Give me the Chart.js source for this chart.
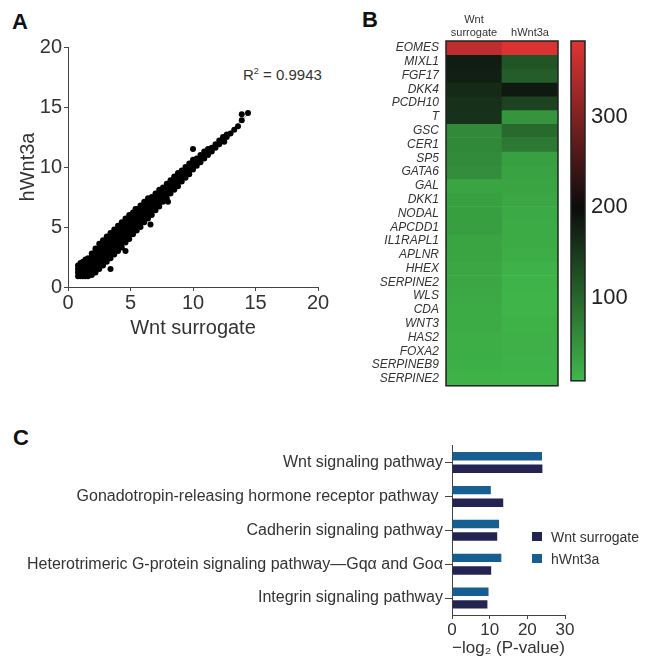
<!DOCTYPE html>
<html>
<head>
<meta charset="utf-8">
<script src="https://cdn.jsdelivr.net/npm/chart.js@4.4.1/dist/chart.umd.min.js"></script>
<style>
  body { margin: 0; width: 650px; height: 672px; position: relative; background: #fff; overflow: hidden;
         font-family: 'Liberation Sans', Arial, sans-serif; color: #333; }
  canvas { position: absolute; }
  .panel { position: absolute; font-weight: bold; font-size: 22px; color: #111; line-height: 1; }
  .note { position: absolute; font-size: 15px; color: #333; line-height: 1; white-space: nowrap; }
  .note sup { font-size: 9px; vertical-align: 6px; }
  .key { position: absolute; font-size: 14px; color: #333; line-height: 1; white-space: nowrap; }
  .key i { position: absolute; left: 0; top: 0; width: 10px; height: 9px; }
  .key span { position: absolute; left: 19px; top: -2px; }
</style>
</head>
<body>
<div class="panel" style="left:12px;top:11px">A</div>
<div class="panel" style="left:362px;top:9px">B</div>
<div class="panel" style="left:13px;top:427px">C</div>
<div class="note" style="left:243px;top:67px">R<sup>2</sup> = 0.9943</div>

<canvas id="scatterA" width="340" height="320" style="left:0;top:30px"></canvas>
<canvas id="heatB" width="240" height="400" style="left:330px;top:0"></canvas>
<canvas id="barB" width="90" height="400" style="left:560px;top:0"></canvas>
<canvas id="barsC" width="650" height="238" style="left:0;top:434px"></canvas>
<div id="legendC"></div>

<script>
// ---- panel A: expression scatter (x = Wnt surrogate, y = hWnt3a) ----
// each row: x value, then the y values seen at that x
const cloudRows = [
  [0.8, [0.9, 1.2, 1.5, 1.8]],
  [1.0, [0.9, 1.2, 1.5, 1.8, 2.0]],
  [1.2, [0.9, 1.2, 1.5, 1.8, 2.1]],
  [1.4, [0.9, 1.2, 1.5, 1.8, 2.1, 2.3]],
  [1.6, [0.9, 1.2, 1.5, 1.8, 2.1, 2.4]],
  [1.9, [1.0, 1.3, 1.6, 1.9, 2.2, 2.5, 2.8]],
  [2.2, [1.2, 1.5, 1.8, 2.1, 2.4, 2.7, 3.0, 3.2]],
  [2.5, [1.5, 1.8, 2.1, 2.4, 2.7, 3.0, 3.3, 3.6]],
  [2.8, [1.8, 2.1, 2.4, 2.7, 3.0, 3.3, 3.6, 3.9]],
  [3.1, [2.1, 2.4, 2.7, 3.0, 3.3, 3.6, 3.9, 4.2]],
  [3.4, [2.4, 2.7, 3.0, 3.3, 3.6, 3.9, 4.2, 4.5]],
  [3.7, [2.7, 3.0, 3.3, 3.6, 3.9, 4.2, 4.5, 4.8]],
  [4.0, [3.0, 3.3, 3.6, 3.9, 4.2, 4.5, 4.8, 5.1]],
  [4.3, [3.3, 3.6, 3.9, 4.2, 4.5, 4.8, 5.1, 5.4]],
  [4.6, [3.7, 4.0, 4.3, 4.6, 4.9, 5.2, 5.5, 5.7]],
  [4.9, [4.0, 4.3, 4.6, 4.9, 5.2, 5.5, 5.8, 6.0]],
  [5.2, [4.4, 4.7, 5.0, 5.3, 5.6, 5.9, 6.2]],
  [5.5, [4.7, 5.0, 5.3, 5.6, 5.9, 6.2, 6.5]],
  [5.8, [5.0, 5.3, 5.6, 5.9, 6.2, 6.5, 6.8]],
  [6.1, [5.4, 5.7, 6.0, 6.3, 6.6, 6.9, 7.1]],
  [6.4, [5.7, 6.0, 6.3, 6.6, 6.9, 7.2, 7.4]],
  [6.7, [6.0, 6.3, 6.6, 6.9, 7.2, 7.5]],
  [7.0, [6.4, 6.7, 7.0, 7.3, 7.6, 7.8]],
  [7.3, [6.7, 7.0, 7.3, 7.6, 7.9, 8.1]],
  [7.6, [7.1, 7.4, 7.7, 8.0, 8.3]],
  [7.9, [7.4, 7.7, 8.0, 8.3, 8.6]],
  [8.2, [7.8, 8.1, 8.4, 8.7, 8.9]],
  [8.5, [8.1, 8.4, 8.7, 9.0, 9.2]],
  [8.8, [8.4, 8.7, 9.0, 9.3, 9.5]],
  [9.1, [8.8, 9.1, 9.4, 9.7]],
  [9.4, [9.1, 9.4, 9.7, 10.0]],
  [9.7, [9.4, 9.7, 10.0, 10.3]],
  [10.0, [9.8, 10.1, 10.4, 10.6]],
  [10.3, [10.1, 10.4, 10.7]],
  [10.6, [10.4, 10.7, 11.0]],
  [10.9, [10.7, 11.0, 11.3]],
  [11.2, [11.0, 11.3, 11.5]],
  [11.5, [11.3, 11.6]],
  [11.8, [11.6, 11.9]],
  [12.1, [11.9, 12.2]],
  [12.4, [12.2, 12.5]],
  [12.7, [12.5, 12.7]],
  [13.0, [12.8]],
  [13.3, [13.1]],
  [13.6, [13.4]],
  [13.9, [13.9, 14.4]],
  [14.4, [14.5]]
];
const outliers = [[10.0, 11.5], [8.0, 7.1], [6.6, 5.2], [4.6, 3.0], [3.4, 1.5], [5.4, 6.5], [12.5, 12.1]];
const fitLine = [[1.0, 1.0], [14.5, 14.5]];

// ---- panel B: heatmap ----
const genes = ['EOMES', 'MIXL1', 'FGF17', 'DKK4', 'PCDH10', 'T', 'GSC', 'CER1', 'SP5', 'GATA6',
  'GAL', 'DKK1', 'NODAL', 'APCDD1', 'IL1RAPL1', 'APLNR', 'HHEX', 'SERPINE2', 'WLS', 'CDA',
  'WNT3', 'HAS2', 'FOXA2', 'SERPINEB9', 'SERPINE2'];
const heatColumns = [['Wnt', 'surrogate'], 'hWnt3a'];
const surrogateVals = [355, 182, 178, 165, 160, 158, 60, 62, 58, 55,
  30, 35, 36, 37, 32, 30, 28, 27, 26, 24, 22, 20, 19, 18, 16];
const hWnt3aVals = [380, 118, 110, 185, 140, 48, 95, 80, 35, 33,
  30, 28, 25, 22, 22, 20, 15, 14, 12, 13, 16, 17, 17, 15, 14];
const scaleStops = [8, 200, 384];
const scaleColors = [[64, 184, 74], [12, 12, 12], [224, 52, 52]];
const scaleTicks = [100, 200, 300];

// ---- panel C: pathway enrichment ----
const pathways = ['Wnt signaling pathway', 'Gonadotropin-releasing hormone receptor pathway ',
  'Cadherin signaling pathway', 'Heterotrimeric G-protein signaling pathway\u2014Gq\u03b1 and Go\u03b1',
  'Integrin signaling pathway'];
const surrogateP = [24.0, 13.6, 12.0, 10.4, 9.4];
const hWnt3aP = [23.9, 10.3, 12.5, 13.1, 9.7];
const navy = '#232452';
const blue = '#185f91';

Chart.defaults.font.family = "'Liberation Sans', Arial, sans-serif";
Chart.defaults.color = '#333';
Chart.defaults.animation = false;
Chart.defaults.plugins.legend.display = false;
Chart.defaults.plugins.tooltip.enabled = false;

const frame = {
  id: 'frame',
  afterDatasetsDraw(chart) {
    const { ctx, chartArea: a } = chart;
    ctx.save();
    ctx.strokeStyle = '#222';
    ctx.lineWidth = 1.5;
    ctx.strokeRect(a.left, a.top, a.right - a.left, a.bottom - a.top);
    ctx.restore();
  }
};

function colorFor(v) {
  const i = v <= scaleStops[1] ? 0 : 1;
  let t = (v - scaleStops[i]) / (scaleStops[i + 1] - scaleStops[i]);
  t = Math.max(0, Math.min(1, t));
  const a = scaleColors[i], b = scaleColors[i + 1];
  const c = a.map((x, k) => Math.round(x + (b[k] - x) * t));
  return `rgb(${c[0]},${c[1]},${c[2]})`;
}

const axisLine = '#444';

// panel A
const cloud = [];
cloudRows.forEach(([x, ys]) => ys.forEach(y => cloud.push({ x, y })));
outliers.forEach(([x, y]) => cloud.push({ x, y }));

new Chart(document.getElementById('scatterA'), {
  type: 'scatter',
  data: {
    datasets: [
      { type: 'line', data: fitLine.map(([x, y]) => ({ x, y })), borderColor: '#9a9a9a',
        borderWidth: 1, pointRadius: 0, order: 2 },
      { data: cloud, pointRadius: 3, backgroundColor: '#000', borderWidth: 0, order: 1 }
    ]
  },
  options: {
    responsive: false,
    layout: { padding: { top: 17, right: 22, left: 0, bottom: 0 } },
    scales: {
      x: {
        type: 'linear', min: 0, max: 20,
        ticks: { stepSize: 5, font: { size: 20 }, color: '#333', padding: 0 },
        grid: { drawOnChartArea: false, tickLength: 4, color: axisLine },
        border: { color: axisLine },
        title: { display: true, text: 'Wnt surrogate', font: { size: 20 }, color: '#333', padding: { bottom: 10 } },
        afterFit: s => { s.height = 63; }
      },
      y: {
        type: 'linear', min: 0, max: 20,
        ticks: { stepSize: 5, font: { size: 20 }, color: '#333', padding: 2 },
        grid: { drawOnChartArea: false, tickLength: 4, color: axisLine },
        border: { color: axisLine },
        title: { display: true, text: 'hWnt3a', font: { size: 20 }, color: '#333', padding: { top: 16 } },
        afterFit: s => { s.width = 68; }
      }
    }
  }
});

// panel B heatmap: one stacked segment per gene in each column
new Chart(document.getElementById('heatB'), {
  type: 'bar',
  data: {
    labels: heatColumns,
    datasets: genes.map((g, i) => ({
      label: g,
      data: [1, 1],
      backgroundColor: [colorFor(surrogateVals[i]), colorFor(hWnt3aVals[i])],
      borderWidth: 0,
      barPercentage: 1,
      categoryPercentage: 1
    }))
  },
  options: {
    responsive: false,
    layout: { padding: { left: 0, top: 0, right: 12, bottom: 7 } },
    scales: {
      x: {
        position: 'top', stacked: true,
        grid: { display: false, tickLength: 0 }, border: { display: false },
        ticks: { font: { size: 11 }, color: '#333', padding: 1, maxRotation: 0 },
        afterFit: s => { s.height = 41; }
      },
      y: { stacked: true, min: 0, max: genes.length, reverse: true, display: false },
      genes: {
        type: 'category', labels: genes, position: 'left', offset: true,
        grid: { display: false, tickLength: 0 }, border: { display: false },
        ticks: { font: { size: 12, style: 'italic' }, color: '#333', padding: 7, autoSkip: false },
        afterFit: s => { s.width = 116; }
      }
    }
  },
  plugins: [frame]
});

// colour scale bar
new Chart(document.getElementById('barB'), {
  type: 'bar',
  data: {
    labels: ['scale'],
    datasets: [{
      data: [[scaleStops[0], scaleStops[2]]],
      borderWidth: 0, barPercentage: 1, categoryPercentage: 1,
      backgroundColor: ctx => {
        const chart = ctx.chart;
        if (!chart.chartArea) return '#000';
        const ys = chart.scales.y;
        const y0 = ys.getPixelForValue(scaleStops[0]);
        const y1 = ys.getPixelForValue(scaleStops[2]);
        const g = chart.ctx.createLinearGradient(0, y0, 0, y1);
        scaleStops.forEach((v, i) => {
          const c = scaleColors[i];
          g.addColorStop((v - scaleStops[0]) / (scaleStops[2] - scaleStops[0]), `rgb(${c[0]},${c[1]},${c[2]})`);
        });
        return g;
      }
    }]
  },
  options: {
    responsive: false,
    layout: { padding: { left: 11, top: 41, right: 0, bottom: 6 } },
    scales: {
      x: { display: false },
      y: {
        position: 'right', min: scaleStops[0], max: scaleStops[2],
        afterBuildTicks: s => { s.ticks = scaleTicks.map(v => ({ value: v })); },
        ticks: { font: { size: 22 }, color: '#222', padding: 6 },
        grid: { display: false, tickLength: 0 }, border: { display: false },
        afterFit: s => { s.width = 65; }
      }
    }
  },
  plugins: [frame]
});

// panel C
new Chart(document.getElementById('barsC'), {
  type: 'bar',
  data: {
    labels: pathways,
    datasets: [
      { label: 'hWnt3a', data: hWnt3aP, backgroundColor: blue, barPercentage: 0.67, categoryPercentage: 0.74 },
      { label: 'Wnt surrogate', data: surrogateP, backgroundColor: navy, barPercentage: 0.67, categoryPercentage: 0.74 }
    ]
  },
  options: {
    responsive: false,
    indexAxis: 'y',
    layout: { padding: { top: 0, right: 85, left: 0, bottom: 0 } },
    scales: {
      y: {
        grid: { drawOnChartArea: false, tickLength: 7, color: axisLine, offset: false },
        border: { color: axisLine },
        ticks: { font: { size: 16 }, color: '#333', padding: 2, autoSkip: false },
        afterFit: s => { s.width = 452; }
      },
      x: {
        min: 0, max: 30,
        ticks: { stepSize: 10, font: { size: 17 }, color: '#333', padding: 1 },
        grid: { drawOnChartArea: false, tickLength: 4, color: axisLine },
        border: { color: axisLine },
        title: { display: true, text: '\u2212log\u2082 (P-value)', font: { size: 17 }, color: '#333', padding: { bottom: 13 } },
        afterFit: s => { s.height = 57; }
      }
    }
  }
});

// legend for panel C
const legendItems = [['Wnt surrogate', navy, 532], ['hWnt3a', blue, 554]];
document.getElementById('legendC').innerHTML = legendItems.map(([t, c, y]) =>
  `<div class="key" style="left:532px;top:${y}px"><i style="background:${c}"></i><span>${t}</span></div>`).join('');
</script>
</body>
</html>
